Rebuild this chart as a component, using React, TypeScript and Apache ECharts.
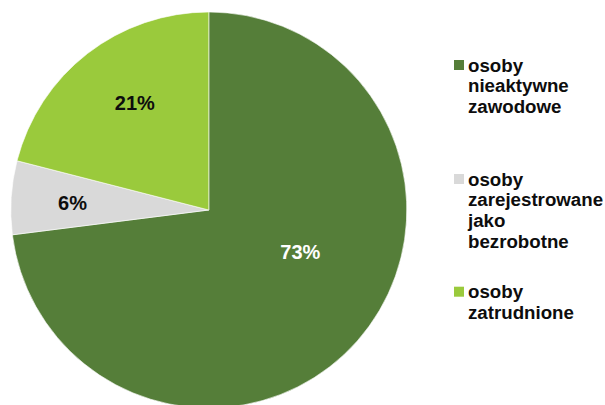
import React, { useEffect, useRef } from "react";
import * as echarts from "echarts";

// Data
const categories = [
  "osoby\nnieaktywne\nzawodowe",
  "osoby\nzarejestrowane\njako\nbezrobotne",
  "osoby\nzatrudnione",
];
const values = [73, 6, 21];
const colors = ["#557E39", "#D9D9D9", "#9ACA3C"];
const labelColors = ["#FFFFFF", "#0D0D0D", "#0D0D0D"];

// Layout (not data)
const labelOffsets: [number, number][] = [
  [15, -25],
  [-34.5, -0.5],
  [-11.5, -26.5],
];
const legendSquareTops = [60, 174, 286.7];
const LEGEND_X = 454;
const LEGEND_TEXT_X = 468;
const FONT = '"Liberation Sans", Arial, sans-serif';

export default function App() {
  const ref = useRef<HTMLDivElement>(null);

  useEffect(() => {
    document.body.style.margin = "0";
    if (!ref.current) return;
    const chart = echarts.init(ref.current, undefined, { renderer: "svg" });

    const legendGraphics: any[] = [];
    categories.forEach((name, i) => {
      legendGraphics.push({
        type: "rect",
        shape: { x: LEGEND_X, y: legendSquareTops[i], width: 10, height: 10 },
        style: { fill: colors[i] },
        silent: true,
      });
      legendGraphics.push({
        type: "text",
        x: LEGEND_TEXT_X,
        y: legendSquareTops[i] - 5.4,
        style: {
          text: name,
          fill: "#0D0D0D",
          fontSize: 18.7,
          fontWeight: "bold",
          fontFamily: FONT,
          lineHeight: 20.9,
          verticalAlign: "top",
          align: "left",
        },
        silent: true,
      });
    });

    chart.setOption({
      animation: false,
      backgroundColor: "#FFFFFF",
      graphic: legendGraphics,
      series: [
        {
          type: "pie",
          center: [208.8, 210],
          radius: 198,
          startAngle: 90,
          clockwise: true,
          avoidLabelOverlap: false,
          silent: true,
          itemStyle: { borderColor: "#FFFFFF", borderWidth: 0.6 },
          label: {
            show: true,
            position: "inside",
            formatter: "{c}%",
            fontSize: 20,
            fontWeight: "bold",
            fontFamily: FONT,
          },
          labelLine: { show: false },
          data: values.map((v, i) => ({
            value: v,
            name: categories[i],
            itemStyle: { color: colors[i] },
            label: { color: labelColors[i], offset: labelOffsets[i] },
          })),
        },
      ],
    });

    return () => chart.dispose();
  }, []);

  return <div ref={ref} style={{ width: 605, height: 405 }} />;
}
